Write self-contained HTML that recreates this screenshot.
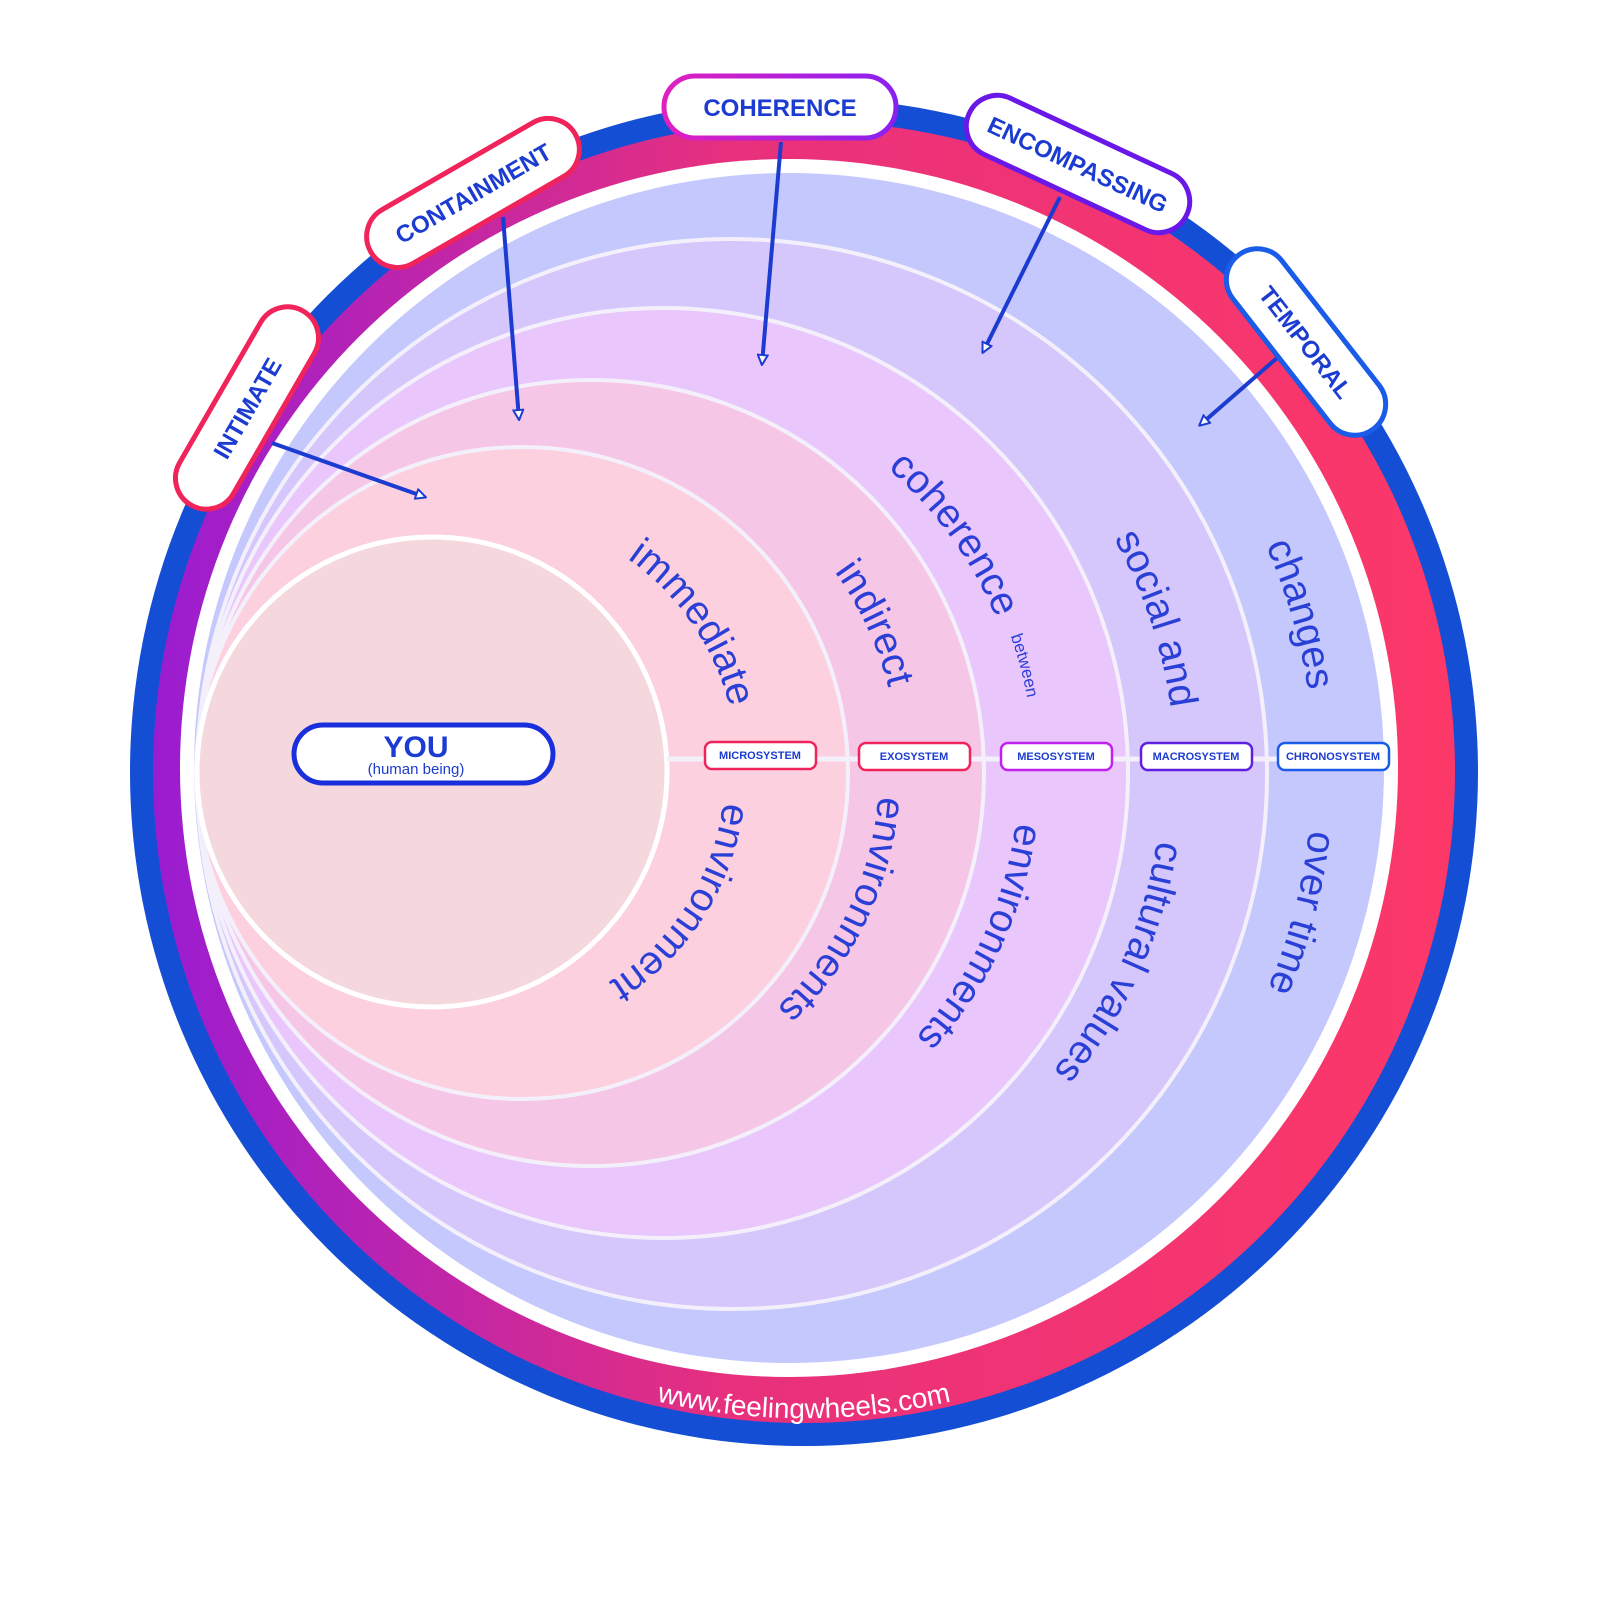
<!DOCTYPE html>
<html><head><meta charset="utf-8"><style>
html,body{margin:0;padding:0;background:#fff;}
svg{display:block;}
.arc{font-family:"Liberation Sans",sans-serif;fill:#2a3fd6;font-size:40px;}
.tag{font-family:"Liberation Sans",sans-serif;font-weight:bold;fill:#1c3bd0;font-size:24px;}
.sm{font-family:"Liberation Sans",sans-serif;font-weight:bold;fill:#1c3bd0;font-size:11px;}
</style></head><body>
<svg width="1600" height="1600" viewBox="0 0 1600 1600" xmlns="http://www.w3.org/2000/svg">
<defs>
<linearGradient id="rg" x1="0" y1="0" x2="1" y2="0">
<stop offset="0" stop-color="#9a1cd2"/><stop offset="0.45" stop-color="#e8307c"/><stop offset="1" stop-color="#fc3868"/>
</linearGradient>
<linearGradient id="cg" x1="0" y1="0" x2="1" y2="0">
<stop offset="0" stop-color="#e020c0"/><stop offset="1" stop-color="#8a20f0"/>
</linearGradient>
<marker id="ah" markerWidth="12" markerHeight="12" refX="10" refY="6" orient="auto" markerUnits="userSpaceOnUse">
<path d="M1,1 L11,6 L1,11 Z" fill="#fff" stroke="#1c3bd0" stroke-width="2"/>
</marker>
<path id="p1" d="M501.5,512.1 A261,261 0 0 1 728.6,841.3"/>
<path id="p2" d="M713.5,697.4 A248,248 0 0 1 509.4,1017.9"/>
<path id="p3" d="M644.8,440.7 A343,343 0 0 1 866.9,917"/>
<path id="p4" d="M850.2,638.6 A323,323 0 0 1 636.3,1084.9"/>
<path id="p5" d="M654.9,373 A400,400 0 0 1 1015.1,868.8"/>
<path id="p6" d="M914.8,484.2 A407,407 0 0 1 1020.1,877.3"/>
<path id="p7" d="M982.3,606.3 A392,392 0 0 1 728.5,1150.6"/>
<path id="p8" d="M872.8,328.2 A477,477 0 0 1 1104.7,1021.2"/>
<path id="p9" d="M1116.1,570.8 A464,464 0 0 1 823.6,1218.7"/>
<path id="p10" d="M982.7,264.7 A554,554 0 0 1 1220.9,1079.4"/>
<path id="p11" d="M1209.9,452.2 A552,552 0 0 1 996.8,1270.6"/>
<path id="pu" d="M388.4,1266.8 A646,646 0 0 0 1219.6,1266.8"/>
</defs>

<circle cx="804" cy="772" r="674" fill="#144ed4"/>
<circle cx="804" cy="772" r="651" fill="url(#rg)"/>
<circle cx="789" cy="768" r="609" fill="#fff"/>
<circle cx="789" cy="768" r="595" fill="#c4c8fc"/>
<g stroke="#f4f0fb" stroke-width="4">
<circle cx="732" cy="774" r="535" fill="#d5c6fc"/>
<circle cx="663" cy="773" r="465" fill="#e9c6fc"/>
<circle cx="591" cy="773" r="393" fill="#f6c6e6"/>
<circle cx="522" cy="773" r="326" fill="#fcd0df"/>
</g>
<circle cx="432" cy="772" r="235" fill="#f5d8de" stroke="#fff" stroke-width="5"/>
<line x1="667" y1="759" x2="1384" y2="759" stroke="#f4f0fb" stroke-width="5"/>

<!-- arc labels -->
<text class="arc"><textPath href="#p1" startOffset="50%" text-anchor="middle">immediate</textPath></text>
<text class="arc"><textPath href="#p2" startOffset="50%" text-anchor="middle">environment</textPath></text>
<text class="arc"><textPath href="#p3" startOffset="50%" text-anchor="middle">indirect</textPath></text>
<text class="arc"><textPath href="#p4" startOffset="50%" text-anchor="middle">environments</textPath></text>
<text class="arc"><textPath href="#p5" startOffset="50%" text-anchor="middle">coherence</textPath></text>
<text class="arc" style="font-size:17px"><textPath href="#p6" startOffset="50%" text-anchor="middle">between</textPath></text>
<text class="arc"><textPath href="#p7" startOffset="50%" text-anchor="middle">environments</textPath></text>
<text class="arc"><textPath href="#p8" startOffset="50%" text-anchor="middle">social and</textPath></text>
<text class="arc"><textPath href="#p9" startOffset="50%" text-anchor="middle">cultural values</textPath></text>
<text class="arc"><textPath href="#p10" startOffset="50%" text-anchor="middle">changes</textPath></text>
<text class="arc"><textPath href="#p11" startOffset="50%" text-anchor="middle">over time</textPath></text>
<text style="font-family:'Liberation Sans',sans-serif;font-size:28px;fill:#fff"><textPath href="#pu" startOffset="50%" text-anchor="middle">www.feelingwheels.com</textPath></text>

<!-- system pills -->
<g stroke-width="2.5" fill="#fff">
<rect x="705" y="742" width="111" height="27" rx="7" stroke="#f0245a"/>
<rect x="859" y="743" width="111" height="27" rx="7" stroke="#f0245a"/>
<rect x="1001" y="743" width="111" height="27" rx="7" stroke="#c020f0"/>
<rect x="1141" y="743" width="111" height="27" rx="7" stroke="#6020e0"/>
<rect x="1278" y="743" width="111" height="27" rx="7" stroke="#1a5be8"/>
</g>
<text class="sm" x="760" y="759" text-anchor="middle">MICROSYSTEM</text>
<text class="sm" x="914" y="760" text-anchor="middle">EXOSYSTEM</text>
<text class="sm" x="1056" y="760" text-anchor="middle">MESOSYSTEM</text>
<text class="sm" x="1196" y="760" text-anchor="middle">MACROSYSTEM</text>
<text class="sm" x="1333" y="760" text-anchor="middle">CHRONOSYSTEM</text>

<!-- YOU -->
<rect x="294" y="725" width="259" height="58" rx="29" fill="#fff" stroke="#1a2fdc" stroke-width="5"/>
<text x="416" y="757" text-anchor="middle" style="font-family:'Liberation Sans',sans-serif;font-weight:bold;font-size:30px;fill:#1c3bd0">YOU</text>
<text x="416" y="774" text-anchor="middle" style="font-family:'Liberation Sans',sans-serif;font-size:15px;fill:#1c3bd0">(human being)</text>

<!-- arrows -->
<g stroke="#1c3bd0" stroke-width="4" marker-end="url(#ah)">
<line x1="272" y1="443" x2="425" y2="497"/>
<line x1="503" y1="217" x2="519" y2="419"/>
<line x1="781" y1="142" x2="762" y2="364"/>
<line x1="1060" y1="197" x2="983" y2="352"/>
<line x1="1277" y1="358" x2="1200" y2="425"/>
</g>

<!-- tags -->
<g transform="translate(247,408) rotate(-60)">
<rect x="-112" y="-31" width="224" height="62" rx="31" fill="#fff" stroke="#f0245a" stroke-width="5"/>
<text class="tag" y="9" text-anchor="middle">INTIMATE</text></g>
<g transform="translate(473,193) rotate(-30)">
<rect x="-118" y="-31" width="236" height="62" rx="31" fill="#fff" stroke="#f0245a" stroke-width="5"/>
<text class="tag" y="9" text-anchor="middle">CONTAINMENT</text></g>
<g transform="translate(780,107)">
<rect x="-116" y="-31" width="232" height="62" rx="31" fill="#fff" stroke="url(#cg)" stroke-width="5"/>
<text class="tag" y="9" text-anchor="middle">COHERENCE</text></g>
<g transform="translate(1078,164) rotate(25)">
<rect x="-120" y="-31" width="240" height="62" rx="31" fill="#fff" stroke="#6a18e8" stroke-width="5"/>
<text class="tag" y="9" text-anchor="middle">ENCOMPASSING</text></g>
<g transform="translate(1306,342) rotate(52)">
<rect x="-110" y="-31" width="220" height="62" rx="31" fill="#fff" stroke="#1a5be8" stroke-width="5"/>
<text class="tag" y="9" text-anchor="middle">TEMPORAL</text></g>
</svg>
</body></html>
